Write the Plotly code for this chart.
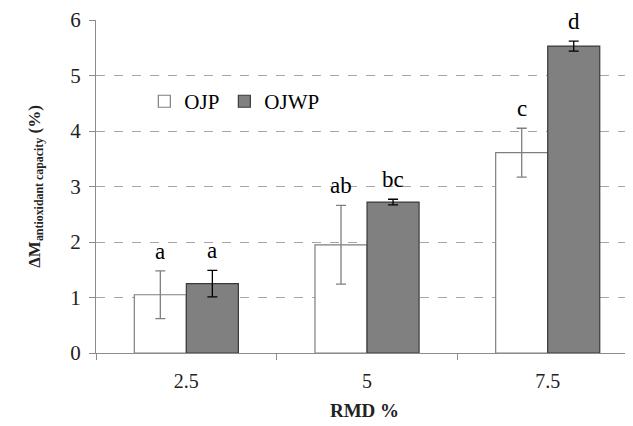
import plotly.graph_objects as go

categories = ["2.5", "5", "7.5"]
ojp_mean = [1.05, 1.95, 3.61]
ojp_err = [0.43, 0.71, 0.44]
ojwp_mean = [1.25, 2.72, 5.53]
ojwp_err = [0.24, 0.05, 0.09]
ojp_letters = ["a", "ab", "c"]
ojwp_letters = ["a", "bc", "d"]
y_ticks = [0, 1, 2, 3, 4, 5, 6]

FONT = "Liberation Serif"

fig = go.Figure()
fig.add_trace(go.Bar(
    name="OJP", x=categories, y=ojp_mean,
    marker=dict(color="white", line=dict(color="#7f7f7f", width=1.2)),
    error_y=dict(type="data", array=ojp_err, color="#7f7f7f", thickness=1.3, width=5),
))
fig.add_trace(go.Bar(
    name="OJWP", x=categories, y=ojwp_mean,
    marker=dict(color="#808080", line=dict(color="#3a3a3a", width=1.2)),
    error_y=dict(type="data", array=ojwp_err, color="#000000", thickness=1.3, width=5),
))

annotations = []
for i, c in enumerate(categories):
    annotations.append(dict(x=i, y=ojp_mean[i] + ojp_err[i], text=ojp_letters[i],
                            xref="x", yref="y", showarrow=False, xshift=-26,
                            yanchor="bottom", yshift=5,
                            font=dict(family=FONT, size=23, color="black")))
    annotations.append(dict(x=i, y=ojwp_mean[i] + ojwp_err[i], text=ojwp_letters[i],
                            xref="x", yref="y", showarrow=False, xshift=26,
                            yanchor="bottom", yshift=5,
                            font=dict(family=FONT, size=23, color="black")))

fig.update_layout(
    width=625, height=418,
    margin=dict(l=88, r=0, t=12, b=73),
    paper_bgcolor="white", plot_bgcolor="white",
    barmode="group", bargap=0.424, bargroupgap=0,
    font=dict(family=FONT, size=18, color="#222222"),
    showlegend=True,
    legend=dict(orientation="h", x=0.09, y=0.755, xanchor="left", yanchor="middle",
                bgcolor="rgba(0,0,0,0)", font=dict(family=FONT, size=21, color="black"),
                itemwidth=30, tracegroupgap=0),
    annotations=annotations,
    xaxis=dict(
        type="category", range=[-0.5, 2.472],
        showline=True, linecolor="#8c8c8c", linewidth=1,
        ticks="outside", tickson="boundaries", ticklen=6, tickcolor="#8c8c8c",
        ticklabelstandoff=10,
        showgrid=False,
        tickfont=dict(family=FONT, size=20, color="#222222"),
        title=dict(text="<b>RMD %</b>", font=dict(family=FONT, size=19, color="#222222"),
                   standoff=12),
    ),
    yaxis=dict(
        range=[0, 6], tickvals=y_ticks,
        showline=True, linecolor="#8c8c8c", linewidth=1,
        ticks="outside", ticklen=6, tickcolor="#8c8c8c",
        ticklabelstandoff=4,
        showgrid=True, gridcolor="#a6a6a6", griddash="dash", gridwidth=1,
        zeroline=False,
        tickfont=dict(family=FONT, size=21, color="#222222"),
        title=dict(text="<b>ΔM<sub>antioxidant capacity</sub> (%)</b>",
                   font=dict(family=FONT, size=17, color="#222222"), standoff=25),
    ),
)

fig.write_html("out.html")
